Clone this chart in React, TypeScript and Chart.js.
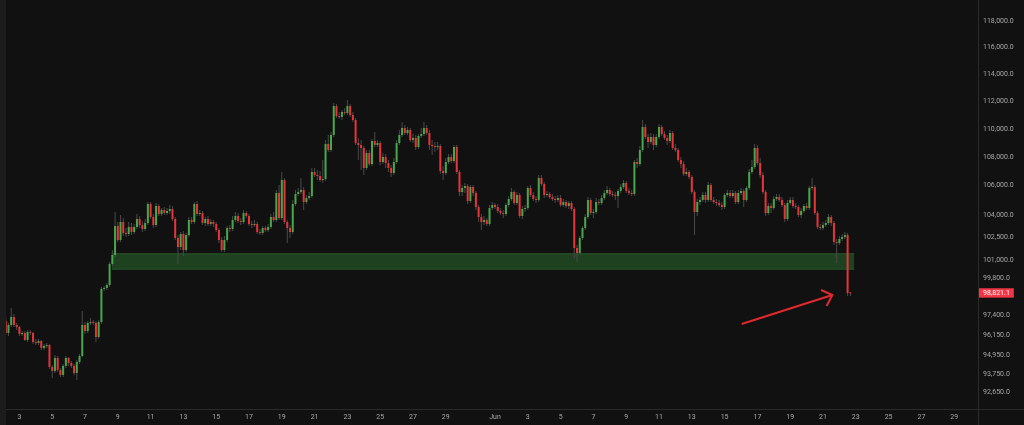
import React, { useEffect, useRef } from 'react';
import { Chart, registerables } from 'chart.js';

Chart.register(...registerables);

// ---- Data (BTC/USD, 4h candles) ----
const START_DAY = 1 + 4 / 24; // first candle: May 2, 04:00 (days counted from May 1, 00:00)
const STEP_DAYS = 4 / 24; // 4-hour candles
const FIRST_OPEN = 97067;
const LAST_PRICE = 98821.1;

const closes = [
  96312, 96814, 97320, 96814, 96688, 96249, 96312, 95873, 96374, 96312,
  95749, 95687, 95811, 95377, 95500, 95562, 94205, 93960, 94758, 94021,
  93715, 94267, 94758, 94451, 94267, 93837, 94512, 94881, 96814, 96437,
  96941, 97004, 96941, 96061, 97004, 99108, 99173, 99367, 100735, 101326,
  103258, 102320, 103527, 102788, 102721, 103191, 102855, 103191, 103730, 103325,
  103056, 103460, 104748, 103865, 103325, 104611, 104068, 104339, 104136, 104271,
  104407, 103730, 102454, 101855, 102721, 101657, 102654, 103662, 103527, 104748,
  104068, 104136, 103460, 103730, 103392, 103527, 103392, 102989, 102320, 101657,
  102320, 103123, 103056, 103662, 103932, 103595, 103527, 104136, 103932, 103392,
  103325, 103392, 102855, 102788, 103123, 102989, 103191, 103865, 103662, 105501,
  103797, 106397, 103527, 103123, 102855, 104748, 105432, 105569, 105707, 104884,
  105158, 105295, 106953, 106744, 106675, 106397, 106466, 108920, 108496, 109560,
  111648, 110924, 110852, 111213, 111141, 111648, 110996, 110635, 108991, 108849,
  108637, 107232, 108284, 107511, 109133, 108849, 108991, 107652, 108003, 107582,
  107232, 106883, 107652, 108991, 109560, 110060, 109703, 109917, 109204, 109346,
  108708, 109489, 109631, 110060, 109703, 108849, 108778, 108708, 108778, 107022,
  106883, 107652, 108003, 107722, 108708, 106953, 105569, 105845, 105982, 104953,
  105913, 105501, 104543, 103865, 103527, 103662, 103392, 104475, 104679, 104543,
  104271, 104136, 104068, 104679, 105089, 105569, 104816, 105363, 103932, 104407,
  104475, 105845, 105363, 105089, 105021, 106536, 106120, 105363, 105432, 105226,
  105089, 105021, 105158, 104679, 104884, 104611, 104816, 104407, 101789, 101458,
  102454, 103123, 103865, 105021, 104136, 104203, 104884, 104816, 105158, 105501,
  105707, 105432, 105363, 105295, 105638, 105913, 106189, 105638, 105501, 105432,
  107652, 107511, 108496, 110132, 109418, 109062, 109418, 108849, 109418, 110132,
  109631, 109346, 109133, 109703, 108637, 108496, 107792, 107511, 106814, 106953,
  106605, 105569, 104203, 104884, 105021, 105363, 105021, 106051, 105021, 104884,
  104816, 104679, 104543, 105363, 105501, 105295, 105501, 104884, 105501, 105638,
  105021, 105845, 106953, 107302, 108637, 107582, 106744, 105569, 104136, 104611,
  104475, 105089, 105226, 105021, 104679, 103730, 104816, 105021, 104611, 104543,
  104000, 104271, 104611, 104475, 105845, 105913, 104136, 103191, 103123, 103325,
  103460, 103865, 103460, 102187, 102121, 102387, 102521, 102654, 98850, 98821.1,
];

const highs = [
  97320, 96941, 97891, 97509, 96941, 96751, 96437, 96437, 96500, 96500,
  96374, 95936, 95936, 95873, 95624, 95687, 95624, 94328, 94943, 94881,
  94144, 94389, 94881, 94820, 94573, 94389, 94635, 95005, 97700, 97004,
  97067, 97257, 97130, 97067, 97130, 99237, 99302, 99496, 100866, 101657,
  104203, 103527, 104000, 103797, 103123, 103527, 103460, 103392, 104068, 103932,
  103595, 103730, 104884, 104884, 104068, 104816, 104748, 104475, 104543, 104475,
  104679, 104611, 103865, 102654, 102855, 102922, 102788, 103865, 103865, 104884,
  104953, 104339, 104271, 103865, 103932, 103730, 103662, 103527, 103123, 102521,
  102587, 103258, 103325, 103932, 104203, 104136, 103797, 104339, 104271, 104068,
  103595, 103662, 103527, 103056, 103258, 103258, 103392, 104068, 104203, 105707,
  106051, 106953, 106536, 103662, 103325, 105021, 105707, 105845, 106536, 105913,
  105363, 105569, 107232, 107232, 107092, 107022, 107792, 109204, 109560, 109774,
  111867, 111794, 111213, 111358, 111503, 112085, 111794, 111213, 110780, 109346,
  109204, 108778, 108496, 108496, 109275, 109774, 109204, 109133, 108284, 108214,
  107792, 107441, 107932, 109204, 109917, 110491, 110275, 110132, 110060, 109631,
  109560, 109631, 110060, 110491, 110275, 109917, 109204, 109062, 109062, 108920,
  107371, 107932, 108214, 108214, 108849, 108849, 107092, 106051, 106189, 106120,
  106051, 106051, 105638, 104679, 104068, 103932, 103797, 104679, 104884, 104816,
  104748, 104475, 104339, 104816, 105295, 105845, 105707, 105569, 105501, 104611,
  104679, 105982, 106051, 105569, 105295, 106744, 106744, 106259, 105638, 105569,
  105432, 105295, 105363, 105363, 105089, 105021, 104953, 104953, 104543, 101988,
  102587, 103258, 104068, 105226, 105158, 104407, 105158, 105089, 105363, 105707,
  105982, 105845, 105638, 105569, 105776, 106120, 106397, 106328, 105845, 105707,
  107792, 107932, 108778, 110635, 110347, 109631, 109703, 109631, 109631, 110347,
  110275, 109846, 109560, 109917, 109846, 108920, 108637, 108003, 107722, 107232,
  107092, 106744, 105707, 105089, 105226, 105569, 105569, 106259, 106189, 105226,
  105089, 105021, 104884, 105501, 105707, 105707, 105707, 105638, 105707, 105845,
  105776, 105982, 107162, 107792, 108920, 108849, 107932, 106953, 105707, 104816,
  104816, 105295, 105432, 105432, 105226, 104816, 105021, 105226, 105226, 104816,
  104679, 104475, 104748, 104816, 105982, 106536, 106051, 104271, 103392, 103527,
  103662, 104068, 104000, 103595, 102387, 102587, 102721, 102855, 102788, 98915,
];

const lows = [
  96186, 96123, 96688, 96688, 96500, 96123, 96123, 95811, 95749, 96186,
  95624, 95562, 95562, 95253, 95253, 95377, 94082, 93533, 93837, 93899,
  93594, 93594, 94144, 94267, 94144, 93715, 93411, 94389, 94820, 96249,
  96312, 96814, 96814, 95749, 95936, 96877, 98979, 99043, 99237, 100604,
  101194, 102187, 102187, 102587, 102521, 102587, 102654, 102721, 103056, 103123,
  102855, 102922, 103325, 103730, 103123, 103191, 103932, 103932, 104000, 104000,
  104068, 103595, 102320, 100735, 101657, 101260, 101524, 102521, 103392, 103392,
  103932, 103932, 103325, 103258, 103258, 103258, 103191, 102855, 102121, 101524,
  101524, 102187, 102855, 102922, 103527, 103460, 103325, 103392, 103797, 103258,
  103123, 103191, 102721, 102654, 102654, 102855, 102855, 103056, 103527, 103527,
  103662, 103662, 103392, 102121, 102454, 102721, 104611, 105295, 105432, 104339,
  104748, 105021, 105158, 106605, 106397, 106259, 106189, 106328, 108355, 108355,
  109418, 110780, 110707, 110635, 110996, 110996, 110852, 110491, 108849, 107792,
  107092, 106744, 107092, 107371, 107371, 108708, 108708, 107441, 107511, 107232,
  106953, 106605, 106744, 107511, 108849, 109418, 109560, 109560, 109062, 108991,
  108496, 108567, 109346, 109489, 109560, 108496, 108143, 108355, 108496, 106814,
  106397, 106744, 107511, 107582, 107582, 106814, 105295, 105295, 105501, 104748,
  104816, 105295, 104339, 103527, 102989, 103325, 103258, 103258, 104339, 104407,
  104136, 104000, 103797, 103932, 104543, 104953, 104679, 104679, 103797, 103730,
  104203, 104339, 105226, 104953, 104816, 104884, 105982, 105158, 105226, 105089,
  104953, 104816, 104884, 104543, 104543, 104475, 104407, 104271, 101129, 100866,
  101326, 102320, 102989, 103730, 104000, 103797, 104068, 104679, 104679, 105021,
  105363, 105295, 105226, 105021, 104475, 105501, 105776, 105501, 105363, 105295,
  105295, 107232, 107371, 108355, 109275, 108637, 108920, 108496, 108708, 109275,
  109489, 109204, 108849, 108991, 108496, 108355, 107652, 107232, 106675, 106675,
  106466, 105432, 102654, 103932, 104679, 104884, 104816, 104884, 104884, 104748,
  104611, 104543, 104339, 104407, 105226, 105158, 105158, 104748, 104748, 105363,
  104543, 104884, 105707, 106814, 107162, 107441, 106536, 105432, 103932, 104000,
  104136, 104339, 104953, 104884, 104543, 103527, 103595, 104679, 104475, 104407,
  103865, 103797, 104136, 104339, 104339, 105707, 104000, 103056, 102989, 102989,
  103191, 103325, 103258, 101988, 100800, 101988, 102254, 102387, 98658, 98658,
];

// Support zone (price band) and annotation arrow, in data units
const ZONE_LOW = 100387;
const ZONE_HIGH = 101412;
const ZONE_START_DAY = 7.63;
const ZONE_END_DAY = 52.91;
const arrowShaft = [
  { x: 46.04, y: 96877 },
  { x: 51.57, y: 98722 },
];
const arrowHead = [
  { x: 50.88, y: 99043 },
  { x: 51.57, y: 98722 },
  { x: 51.22, y: 98018 },
];

// Axis ticks
const yTickValues = [
  118000, 116000, 114000, 112000, 110000, 108000, 106000, 104000, 102500,
  101000, 99800, 97400, 96150, 94950, 93750, 92650,
];
const xTickDays = [
  2, 4, 6, 8, 10, 12, 14, 16, 18, 20, 22, 24, 26, 28, 31, 33, 35, 37, 39, 41,
  43, 45, 47, 49, 51, 53, 55, 57, 59,
];
const xTickLabels = [
  '3', '5', '7', '9', '11', '13', '15', '17', '19', '21', '23', '25', '27', '29',
  'Jun', '3', '5', '7', '9', '11', '13', '15', '17', '19', '21', '23', '25', '27', '29',
];

const X_MIN = 1.183;
const X_MAX = 60.451;
const Y_MIN = 91660;
const Y_MAX = 119625;

// Styles
const BG = '#111111';
const STRIP = '#1c1c1c';
const GREEN = '#47a84b';
const RED = '#e8333b';
const WICK = '#4a4a4a';
const ARROW = '#e0282d';
const LABEL = '#a8a8a8';
const LINE = '#2a2a2a';
const FONT = 'Roboto, "Noto Sans", "DejaVu Sans", sans-serif';

const framePlugin = {
  id: 'frame',
  beforeDraw(chart: any) {
    const { ctx, width, height } = chart;
    ctx.save();
    ctx.fillStyle = BG;
    ctx.fillRect(0, 0, width, height);
    ctx.restore();
  },
  beforeDatasetsDraw(chart: any) {
    const { ctx, chartArea, width, height } = chart;
    ctx.save();
    ctx.strokeStyle = LINE;
    ctx.lineWidth = 1;
    ctx.beginPath();
    ctx.moveTo(Math.round(chartArea.right) + 0.5, 0);
    ctx.lineTo(Math.round(chartArea.right) + 0.5, height);
    ctx.moveTo(0, Math.round(chartArea.bottom) + 0.5);
    ctx.lineTo(width, Math.round(chartArea.bottom) + 0.5);
    ctx.stroke();
    ctx.restore();
  },
};

export default function App() {
  const canvasRef = useRef<HTMLCanvasElement | null>(null);

  useEffect(() => {
    if (!canvasRef.current) return;
    const times = closes.map((_, i) => START_DAY + i * STEP_DAYS);
    const opens = closes.map((_, i) => (i === 0 ? FIRST_OPEN : closes[i - 1]));
    const colors = closes.map((c, i) => (c >= opens[i] ? GREEN : RED));

    const chart = new Chart(canvasRef.current, {
      type: 'bar',
      data: {
        datasets: [
          {
            type: 'line',
            label: 'zone-top',
            data: [
              { x: ZONE_START_DAY, y: ZONE_HIGH },
              { x: ZONE_END_DAY, y: ZONE_HIGH },
            ],
            borderColor: 'rgba(76,175,80,0.35)',
            borderWidth: 1,
            pointRadius: 0,
            backgroundColor: 'rgba(46,125,50,0.45)',
            fill: { value: ZONE_LOW },
            order: 6,
          },
          {
            type: 'line',
            label: 'zone-bottom',
            data: [
              { x: ZONE_START_DAY, y: ZONE_LOW },
              { x: ZONE_END_DAY, y: ZONE_LOW },
            ],
            borderColor: 'rgba(76,175,80,0.35)',
            borderWidth: 1,
            pointRadius: 0,
            fill: false,
            order: 6,
          },
          {
            type: 'bar',
            label: 'wicks',
            data: times.map((t, i) => ({ x: t, y: [lows[i], highs[i]] })),
            backgroundColor: WICK,
            barThickness: 1,
            inflateAmount: 0,
            grouped: false,
            order: 4,
          },
          {
            type: 'bar',
            label: 'bodies',
            data: times.map((t, i) => ({ x: t, y: [opens[i], closes[i]] })),
            backgroundColor: colors,
            barThickness: 2,
            inflateAmount: 0,
            minBarLength: 1,
            grouped: false,
            order: 3,
          },
          {
            type: 'line',
            label: 'arrow',
            data: arrowShaft,
            borderColor: ARROW,
            borderWidth: 2,
            pointRadius: 0,
            fill: false,
            order: 1,
          },
          {
            type: 'line',
            label: 'arrow-head',
            data: arrowHead,
            borderColor: ARROW,
            borderWidth: 2,
            pointRadius: 0,
            fill: false,
            order: 1,
          },
        ] as any,
      },
      options: {
        animation: false,
        responsive: true,
        maintainAspectRatio: false,
        events: [],
        layout: { padding: 0 },
        plugins: {
          legend: { display: false },
          tooltip: { enabled: false },
        },
        scales: {
          x: {
            type: 'linear',
            position: 'bottom',
            min: X_MIN,
            max: X_MAX,
            offset: false,
            grid: { display: false, drawTicks: false },
            border: { display: false },
            ticks: {
              autoSkip: false,
              maxRotation: 0,
              padding: 4,
              color: LABEL,
              font: { size: 7, family: FONT },
              callback: (_v: any, index: number) => xTickLabels[index],
            },
            afterBuildTicks: (scale: any) => {
              scale.ticks = xTickDays.map((v) => ({ value: v }));
            },
            afterFit: (scale: any) => {
              scale.height = 16;
              scale.paddingLeft = 0;
              scale.paddingRight = 0;
            },
          },
          y: {
            type: 'logarithmic',
            position: 'right',
            min: Y_MIN,
            max: Y_MAX,
            offset: false,
            grid: { display: false, drawTicks: false },
            border: { display: false },
            ticks: {
              autoSkip: false,
              padding: 5,
              font: { size: 7, family: FONT },
              color: (ctx: any) =>
                ctx.tick && ctx.tick.value === LAST_PRICE ? '#ffffff' : LABEL,
              showLabelBackdrop: (ctx: any) =>
                !!(ctx.tick && ctx.tick.value === LAST_PRICE),
              backdropColor: '#f23645',
              backdropPadding: { left: 4, right: 4, top: 1, bottom: 0 },
              callback: (v: any) =>
                Number(v).toLocaleString('en-US', {
                  minimumFractionDigits: 1,
                  maximumFractionDigits: 1,
                }),
            },
            afterBuildTicks: (scale: any) => {
              scale.ticks = [...yTickValues, LAST_PRICE].map((v) => ({ value: v }));
            },
            afterFit: (scale: any) => {
              scale.width = 46;
              scale.paddingTop = 0;
              scale.paddingBottom = 0;
            },
          },
        },
      } as any,
      plugins: [framePlugin],
    });

    return () => chart.destroy();
  }, []);

  return (
    <div style={{ position: 'fixed', inset: 0, background: STRIP }}>
      <div style={{ position: 'absolute', left: 6, top: 0, width: 1018, height: 425 }}>
        <canvas ref={canvasRef} />
      </div>
    </div>
  );
}
